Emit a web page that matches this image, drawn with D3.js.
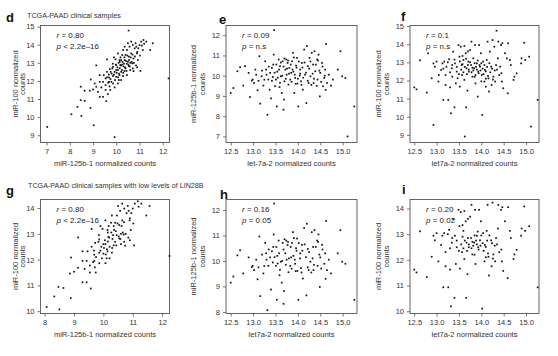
<!DOCTYPE html>
<html><head><meta charset="utf-8">
<script src="https://cdn.jsdelivr.net/npm/d3@7"></script>
<style>
html,body{margin:0;padding:0;background:#fff;}
svg{display:block;font-family:"Liberation Sans",Arial,sans-serif;}
</style></head>
<body><svg id="c" width="558" height="356"></svg>
<script>
// [x, y, inLowLIN28Bcohort]
const panelD = [
[7.03,9.46,0],[9.93,8.9,0],[10.53,14.78,0],[12.25,12.14,1],[9.03,9.55,0],
[8.07,10.16,1],[8.5,10.07,1],[8.33,10.57,1],[8.89,10.51,1],[8.47,10.94,1],
[8.64,10.9,1],[9.57,10.88,1],[8.47,11.68,0],[8.64,11.46,0],[8.86,11.46,1],
[8.9,12.08,1],[9.14,12.86,1],[11.57,14.08,1],[11.46,13.71,1],
[9.29,11.12,1],[9.21,11.4,0],[9.36,11.64,1],[9.14,11.68,1],[9.43,11.95,1],
[9.29,12.32,1],[9.54,12.14,0],[9.6,12.5,1],[9.6,13.19,1],[9.54,11.5,1],
[9.71,11.7,1],[9.79,11.95,0],[9.69,12.19,1],[9.86,12.27,1],[9.93,12.5,1],
[9.83,12.69,1],[10.0,12.88,0],[9.97,13.19,1],[10.07,12.6,1],[10.14,12.32,1],
[10.17,12.88,1],[10.21,13.15,0],[10.26,13.43,1],[10.31,12.8,1],[10.36,13.15,1],
[10.4,13.43,1],[10.46,13.71,1],[10.5,13.06,0],[10.54,13.34,1],[10.57,13.89,1],
[10.64,13.52,1],[10.69,12.97,1],[10.71,12.69,1],[10.74,13.24,0],[10.79,13.8,1],
[10.83,14.08,1],[10.89,13.52,1],[10.93,13.15,1],[11.0,13.98,1],[11.07,14.17,1],
[11.14,13.71,0],[11.17,14.26,1],[11.29,14.17,1],[10.74,12.54,1],[10.6,12.6,1],
[10.07,11.86,1],[9.93,11.64,0],[10.0,12.23,1],[10.21,12.05,1],[9.86,11.86,1],
[9.74,11.5,1],[9.64,11.27,0],[9.43,11.12,1],[10.14,13.15,1],[10.07,13.52,1],
[10.29,13.71,1],[10.36,13.89,0],[10.5,14.08,1],[10.64,14.17,1],[10.71,13.98,1],
[10.86,13.89,1],[10.4,12.69,1],[10.46,12.32,0],[10.54,12.82,1],[10.21,12.5,1],
[10.29,12.27,1],[10.11,12.05,1],[9.86,12.78,1],[9.76,12.5,0],[9.69,11.95,1],
[9.54,11.77,1],[9.46,12.32,1],[9.29,11.95,1],[9.07,11.86,0],[9.0,11.53,1],
[10.02,12.45,1],[10.05,12.75,1],[10.1,13.0,0],[10.12,12.4,1],[10.15,12.7,1],
[10.18,13.3,1],[10.2,12.85,1],[10.24,12.6,0],[10.27,13.05,1],[10.3,12.45,1],
[10.33,12.95,1],[10.35,13.3,1],[10.38,12.75,0],[10.42,13.1,1],[10.44,12.55,1],
[10.48,13.4,1],[10.52,12.9,1],[10.55,13.15,0],[10.58,12.8,1],[10.62,13.3,1],
[10.66,13.05,1],[10.7,13.45,1],[10.76,13.0,1],[10.8,13.35,0],[10.85,12.85,1],
[10.9,13.6,1],[10.95,13.8,1],[11.02,13.4,1],[11.1,13.95,0],[11.2,14.05,1],
[9.9,12.35,1],[9.95,12.05,1],[9.8,12.4,0],[9.75,12.1,1],[9.72,12.65,1],
[9.68,12.35,1],[9.65,11.9,1],[9.6,12.2,0],[9.85,12.95,1],[9.9,13.3,1],
[10.0,12.6,1],[10.08,12.2,1],[10.25,12.9,0],[10.45,12.95,1],[10.6,13.0,1],
[10.35,12.55,1],[10.15,13.05,1],[9.98,12.9,0],[11.04,12.55,1],[10.9,12.75,1]
];
const panelE = [
[12.5,9.15,1],[12.56,9.39,1],[12.65,10.22,1],[12.71,10.42,1],[12.78,9.51,1],[12.82,10.47,0],[12.9,10.14,1],[12.93,8.95,0],[12.97,9.76,1],[12.99,9.81,1],
[13.02,9.64,1],[13.07,10.05,1],[13.1,9.28,1],[13.14,10.96,1],[13.16,8.62,1],[13.19,9.97,0],[13.23,9.51,1],[13.27,10.71,1],[13.29,10.3,1],[13.32,8.07,1],
[13.34,9.81,1],[13.37,9.31,0],[13.38,10.14,1],[13.4,8.88,1],[13.42,10.38,1],[13.44,9.94,1],[13.46,11.04,1],[13.47,12.25,1],[13.49,9.48,0],[13.51,9.81,1],
[13.53,8.48,1],[13.54,10.2,1],[13.57,10.8,1],[13.59,9.44,1],[13.6,10.47,0],[13.62,9.97,1],[13.64,9.15,1],[13.66,10.71,1],[13.68,8.32,1],[13.69,8.82,1],
[13.7,9.72,0],[13.72,10.3,1],[13.74,10.8,1],[13.75,10.05,1],[13.77,10.63,1],[13.79,9.56,1],[13.81,10.38,0],[13.83,9.81,1],[13.85,10.14,1],[13.87,10.71,1],
[13.89,11.13,1],[13.9,10.2,1],[13.92,9.15,0],[13.94,9.89,1],[13.96,10.5,1],[13.98,10.88,1],[13.99,9.61,1],[14.01,8.48,1],[14.04,10.0,0],[14.05,10.3,1],
[14.07,9.72,1],[14.09,10.63,1],[14.11,9.31,1],[14.14,11.29,1],[14.16,10.05,0],[14.19,8.65,1],[14.2,11.46,1],[14.22,10.47,1],[14.24,9.64,1],[14.26,10.88,0],
[14.28,9.97,1],[14.31,11.13,1],[14.34,10.55,1],[14.35,9.64,1],[14.37,11.21,1],[14.39,10.22,0],[14.43,10.8,1],[14.44,9.81,1],[14.46,11.04,1],[14.49,8.98,1],
[14.5,10.14,1],[14.54,10.63,1],[14.56,9.48,0],[14.59,9.89,1],[14.61,10.3,1],[14.63,11.57,1],[14.65,9.64,1],[14.69,10.05,1],[14.74,9.51,1],[14.78,9.81,0],
[14.89,10.3,1],[14.95,11.21,1],[14.99,9.97,1],[15.06,9.89,1],[15.11,7.0,0],[15.26,8.48,1],
[13.3,10.05,1],[13.35,10.45,1],[13.42,9.75,0],[13.48,10.15,1],[13.52,10.55,1],[13.55,9.9,1],[13.58,10.3,1],[13.62,10.65,0],[13.65,10.0,1],[13.68,10.45,1],
[13.7,10.85,1],[13.73,9.85,1],[13.76,10.35,0],[13.78,10.75,1],[13.8,10.1,1],[13.84,10.55,1],[13.86,9.7,1],[13.88,10.3,0],[13.91,10.9,1],[13.93,10.05,1],
[13.95,9.6,1],[13.97,10.4,1],[14.0,9.85,0],[14.02,10.7,1],[14.05,10.1,1],[14.08,9.55,1],[14.1,10.4,1],[14.12,9.9,0],[14.15,10.65,1],[14.18,10.15,1],
[14.22,9.75,1],[14.25,10.35,1],[14.28,10.7,0],[14.3,9.55,1],[14.33,10.1,1],[14.36,9.85,1],[14.4,10.55,1],[14.42,9.5,0],[14.45,10.75,1],[14.48,10.25,1],
[14.52,9.7,1],[14.55,10.45,1],[14.6,10.0,0],[14.62,9.3,1],[13.2,10.25,1],[13.25,9.8,1],[13.12,9.75,1],[13.05,10.3,0],[13.45,10.55,1],[13.6,9.65,1]
];
const panelF = [
[12.5,11.62,1],[12.55,11.51,1],[12.63,13.11,1],[12.78,11.33,1],[12.81,13.5,0],[12.93,9.55,0],[12.89,12.12,1],[12.93,12.94,1],[12.96,12.76,1],[13.0,13.04,1],
[13.04,11.94,1],[13.05,12.3,0],[13.1,12.58,1],[13.13,12.94,1],[13.15,10.93,1],[13.17,13.04,1],[13.2,11.75,1],[13.22,12.76,0],[13.26,10.93,1],[13.28,13.17,1],
[13.3,11.62,1],[13.32,10.19,1],[13.34,12.67,1],[13.35,12.21,0],[13.37,13.59,1],[13.4,10.52,1],[13.41,12.94,1],[13.43,11.84,1],[13.45,12.49,1],[13.47,12.12,0],
[13.49,13.95,1],[13.51,13.31,1],[13.52,11.66,1],[13.54,13.86,1],[13.56,12.85,0],[13.57,12.3,1],[13.6,13.13,1],[13.62,12.03,1],[13.63,8.91,0],[13.65,13.5,1],
[13.66,10.52,1],[13.67,12.67,1],[13.69,11.44,1],[13.71,13.04,0],[13.72,12.49,1],[13.75,13.68,1],[13.77,12.85,1],[13.78,14.14,1],[13.8,12.21,1],[13.82,13.22,0],
[13.84,12.67,1],[13.86,13.95,1],[13.87,11.84,1],[13.9,12.94,1],[13.92,11.11,0],[13.93,12.49,1],[13.95,13.95,1],[13.97,12.76,1],[13.99,13.5,1],[14.01,12.3,0],
[14.02,10.1,1],[14.04,13.04,1],[14.07,11.94,1],[14.08,12.58,1],[14.1,11.66,0],[14.12,13.13,1],[14.14,14.14,1],[14.16,12.12,1],[14.17,11.39,1],[14.19,13.59,0],
[14.22,12.76,1],[14.23,11.75,1],[14.25,14.23,1],[14.27,12.21,1],[14.29,13.86,0],[14.31,11.94,1],[14.34,14.74,0],[14.37,13.22,1],[14.38,14.14,1],[14.4,12.3,1],
[14.42,12.76,0],[14.44,13.95,1],[14.46,11.94,1],[14.47,14.05,1],[14.49,11.57,1],[14.53,13.5,1],[14.57,13.22,0],[14.59,11.29,1],[14.6,14.05,1],[14.64,13.13,1],
[14.66,12.85,1],[14.72,12.03,1],[14.74,12.21,1],[14.79,12.39,1],[14.89,12.94,1],[14.9,13.22,1],[14.96,14.08,1],[14.98,13.13,1],[15.07,13.31,1],[15.11,9.46,0],[15.26,10.93,1],
[13.45,12.75,1],[13.5,12.35,1],[13.52,13.05,0],[13.55,12.6,1],[13.58,12.9,1],[13.6,12.45,1],[13.63,12.75,1],[13.66,13.2,0],[13.68,12.35,1],[13.7,12.85,1],
[13.72,12.6,1],[13.75,13.0,0],[13.78,12.45,1],[13.8,12.7,1],[13.82,12.55,1],[13.85,12.95,1],[13.87,12.3,0],[13.88,12.75,1],[13.9,12.6,1],[13.92,13.1,1],
[13.94,12.4,1],[13.96,12.85,0],[13.98,12.55,1],[14.0,12.95,1],[14.03,12.65,1],[14.05,12.35,1],[14.07,12.85,0],[14.1,12.5,1],[14.13,12.75,1],[14.15,12.25,1],
[14.18,12.95,1],[14.2,12.45,0],[14.24,12.65,1],[14.26,12.05,1],[14.3,12.55,1],[14.33,12.85,1],[13.4,13.15,0],[13.35,12.85,1],[13.3,12.45,1],[13.25,13.0,1],
[13.2,12.3,1],[13.15,12.65,0],[13.58,13.35,1],[13.62,13.9,1],[13.7,13.6,1],[13.85,12.2,1],[14.0,11.95,0],[14.1,12.1,1],[14.35,12.6,1],[14.45,12.4,1]
];

const ticksMir125 = [7,8,9,10,11,12];
const ticksMir125Low = [8,9,10,11,12];
const ticksLet7 = [12.5,13.0,13.5,14.0,14.5,15.0];
const ticksMir100 = [9,10,11,12,13,14,15];
const ticksMir100Low = [10,11,12,13,14];
const ticksMir125Y = [7,8,9,10,11,12];
const ticksMir125YLow = [8,9,10,11,12];

const stats = {
  d:["0.80","< 2.2e–16"], e:["0.09","= n.s"], f:["0.1","= n.s"],
  g:["0.80","< 2.2e–16"], h:["0.16","= 0.05"], i:["0.20","= 0.02"]
};

const panels = [
 {id:"d", pts:panelD, low:false, box:[40.5,169.5,25.5,142.5], xd:[6.74,12.29], yd:[8.6,15.06], xt:ticksMir125, yt:ticksMir100, fmt:d3.format("d"),
  xl:"miR-125b-1 normalized counts", yl:"miR-100 normalized", lx:[6,22], yo:[23,15.5]},
 {id:"e", pts:panelE, low:false, box:[226,357,25.5,142.5], xd:[12.395,15.32], yd:[6.7,12.48], xt:ticksLet7, yt:ticksMir125Y, fmt:d3.format(".1f"),
  xl:"let-7a-2 normalized counts", yl:"miR-125b-1 normalized", lx:[219,24], yo:[30,21.5]},
 {id:"f", pts:panelF, low:false, box:[410,539,25.5,142.5], xd:[12.405,15.29], yd:[8.58,15.03], xt:ticksLet7, yt:ticksMir100, fmt:d3.format(".1f"),
  xl:"let7a-2 normalized counts", yl:"miR-100 normalized", lx:[401,21], yo:[29,21.5]},
 {id:"g", pts:panelD, low:true, box:[40.5,169.5,199.5,313.5], xd:[7.86,12.25], yd:[9.91,14.33], xt:ticksMir125Low, yt:ticksMir100Low, fmt:d3.format("d"),
  xl:"miR-125b-1 normalized counts", yl:"miR-100 normalized", lx:[6,195], yo:[23,15.5]},
 {id:"h", pts:panelE, low:true, box:[226,357,199.5,313.5], xd:[12.395,15.32], yd:[7.94,12.41], xt:ticksLet7, yt:ticksMir125YLow, fmt:d3.format(".1f"),
  xl:"let7a-2 normalized counts", yl:"miR-125b-1 normalized", lx:[220,199], yo:[30,21.5]},
 {id:"i", pts:panelF, low:true, box:[410,539,199.5,313.5], xd:[12.405,15.29], yd:[9.91,14.35], xt:ticksLet7, yt:ticksMir100Low, fmt:d3.format(".1f"),
  xl:"let7a-2 normalized counts", yl:"miR-100 normalized", lx:[402,194], yo:[29,21.5]}
];

const svg = d3.select("#c");
const FS = 7.5;

svg.append("text").attr("x",27).attr("y",17.5).attr("font-size",7.2).attr("fill","#333")
  .text("TCGA-PAAD clinical samples");
svg.append("text").attr("x",28).attr("y",188).attr("font-size",7.2).attr("fill","#333")
  .text("TCGA-PAAD clinical samples with low levels of LIN28B");

panels.forEach(p => {
  const [x0,x1,y0,y1] = p.box;
  const x = d3.scaleLinear().domain(p.xd).range([x0,x1]);
  const y = d3.scaleLinear().domain(p.yd).range([y1,y0]);
  const g = svg.append("g");

  g.append("text").attr("x",p.lx[0]).attr("y",p.lx[1]).attr("font-size",13).attr("font-weight","bold")
    .attr("fill","#111").text(p.id);

  const ax = g.append("g").attr("transform",`translate(0,${y1})`)
    .call(d3.axisBottom(x).tickValues(p.xt).tickFormat(p.fmt).tickSize(3).tickSizeOuter(0).tickPadding(3));
  const ay = g.append("g").attr("transform",`translate(${x0},0)`)
    .call(d3.axisLeft(y).tickValues(p.yt).tickFormat(d3.format("d")).tickSize(3).tickSizeOuter(0).tickPadding(3));
  [ax,ay].forEach(a=>{
    a.select(".domain").remove();
    a.selectAll("line").attr("stroke","#555").attr("stroke-width",0.8);
    a.selectAll("text").attr("font-size",FS).attr("fill","#333").attr("font-family","Liberation Sans, Arial, sans-serif");
  });

  g.append("rect").attr("x",x0).attr("y",y0).attr("width",x1-x0).attr("height",y1-y0)
    .attr("fill","none").attr("stroke","#555").attr("stroke-width",0.9);

  const pts = p.low ? p.pts.filter(d=>d[2]===1) : p.pts;
  g.selectAll("rect.pt").data(pts).enter().append("rect").attr("class","pt")
    .attr("x",d=>x(d[0])-0.85).attr("y",d=>y(d[1])-0.85).attr("width",1.7).attr("height",1.7)
    .attr("fill","#111");

  g.append("text").attr("x",(x0+x1)/2).attr("y",y1+23.5).attr("text-anchor","middle")
    .attr("font-size",FS).attr("fill","#333").text(p.xl);
  const cy = (y0+y1)/2;
  g.append("text").attr("transform",`translate(${x0-p.yo[0]},${cy}) rotate(-90)`).attr("text-anchor","middle")
    .attr("font-size",FS).attr("fill","#333").text(p.yl);
  g.append("text").attr("transform",`translate(${x0-p.yo[1]},${cy}) rotate(-90)`).attr("text-anchor","middle")
    .attr("font-size",FS).attr("fill","#333").text("counts");

  const s = stats[p.id];
  const tx = x0 + 16;
  const t1 = g.append("text").attr("x",tx).attr("y",y0+12).attr("font-size",8).attr("fill","#222");
  t1.append("tspan").attr("font-style","italic").text("r");
  t1.append("tspan").text(" = " + s[0]);
  const t2 = g.append("text").attr("x",tx).attr("y",y0+23).attr("font-size",8).attr("fill","#222");
  t2.append("tspan").attr("font-style","italic").text("p");
  t2.append("tspan").text(" " + s[1]);
});
</script>
</body></html>
